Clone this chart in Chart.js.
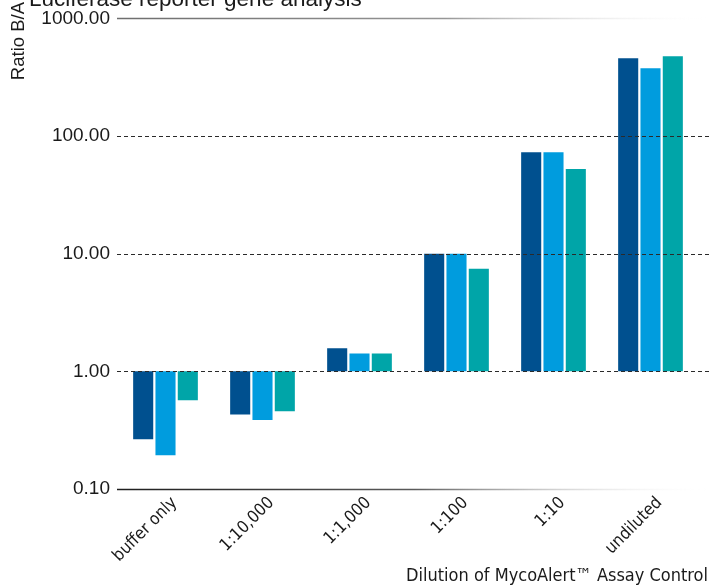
<!DOCTYPE html>
<html>
<head>
<meta charset="utf-8">
<script src="https://cdn.jsdelivr.net/npm/chart.js@4.4.1/dist/chart.umd.min.js"></script>
<style>
  html, body { margin: 0; padding: 0; background: #ffffff; }
  #wrap { width: 712px; height: 585px; position: relative; }
</style>
</head>
<body>
<div id="wrap"><canvas id="c" width="712" height="585"></canvas></div>
<script>
const chartTitle = "Luciferase reporter gene analysis";
const yTitle = "Ratio B/A";
const xTitle = "Dilution of MycoAlert™ Assay Control";
const categories = ["buffer only", "1:10,000", "1:1,000", "1:100", "1:10", "undiluted"];
const seriesNames = ["Replicate 1", "Replicate 2", "Replicate 3"];
const series1 = [0.265, 0.43, 1.57, 10.0, 73, 458];
const series2 = [0.194, 0.385, 1.42, 10.0, 73, 377];
const series3 = [0.568, 0.458, 1.42, 7.46, 52.5, 476];
const baseline = 1;
const yTickValues = [0.1, 1, 10, 100, 1000];
const dashedGridValues = [1, 10, 100];
const colors = ["#00508F", "#009CDE", "#00A5A8"];

const allSeries = [series1, series2, series3];

const overlayPlugin = {
  id: 'overlay',
  afterDatasetsDraw(chart) {
    const ctx = chart.ctx;
    const ys = chart.scales.y;
    const left = chart.chartArea.left;
    const right = chart.width;
    ctx.save();
    ctx.strokeStyle = '#2a2a2a';
    ctx.lineWidth = 1;
    ctx.setLineDash([4, 3]);
    dashedGridValues.forEach(v => {
      const y = Math.round(ys.getPixelForValue(v)) + 0.5;
      ctx.beginPath();
      ctx.moveTo(left, y);
      ctx.lineTo(right, y);
      ctx.stroke();
    });
    ctx.setLineDash([]);
    const yTop = Math.round(ys.getPixelForValue(yTickValues[yTickValues.length - 1])) + 0.5;
    let g = ctx.createLinearGradient(left, 0, right, 0);
    g.addColorStop(0, 'rgba(110,110,110,1)');
    g.addColorStop(0.55, 'rgba(150,150,150,1)');
    g.addColorStop(1, 'rgba(255,255,255,0)');
    ctx.strokeStyle = g;
    ctx.lineWidth = 1.3;
    ctx.beginPath(); ctx.moveTo(left, yTop); ctx.lineTo(right, yTop); ctx.stroke();
    const yBot = Math.round(ys.getPixelForValue(yTickValues[0])) + 0.5;
    g = ctx.createLinearGradient(left, 0, right, 0);
    g.addColorStop(0, 'rgba(30,30,30,1)');
    g.addColorStop(0.5, 'rgba(90,90,90,1)');
    g.addColorStop(1, 'rgba(255,255,255,0)');
    ctx.strokeStyle = g;
    ctx.beginPath(); ctx.moveTo(left, yBot); ctx.lineTo(right, yBot); ctx.stroke();
    ctx.restore();
  },
  afterDraw(chart) {
    const ctx = chart.ctx;
    ctx.save();
    ctx.fillStyle = '#1a1a1a';
    ctx.font = '22.5px "Liberation Sans", Arial, sans-serif';
    ctx.textAlign = 'left';
    ctx.textBaseline = 'alphabetic';
    ctx.fillText(chartTitle, 29, 6);
    ctx.save();
    ctx.translate(24, 2);
    ctx.rotate(-Math.PI / 2);
    ctx.font = '18.5px "Liberation Sans", Arial, sans-serif';
    ctx.textAlign = 'right';
    ctx.textBaseline = 'alphabetic';
    ctx.fillText(yTitle, 0, 0);
    ctx.restore();
    ctx.font = '18px "Liberation Sans Narrow", "DejaVu Sans Condensed", sans-serif';
    ctx.textAlign = 'right';
    ctx.textBaseline = 'alphabetic';
    ctx.fillText(xTitle, 708, 581);
    ctx.restore();
  }
};

new Chart(document.getElementById('c'), {
  type: 'bar',
  data: {
    labels: categories,
    datasets: allSeries.map((s, i) => ({
      label: seriesNames[i],
      data: s.map(v => [baseline, v]),
      backgroundColor: colors[i],
      borderWidth: 0,
      categoryPercentage: 0.69,
      barPercentage: 0.9
    }))
  },
  options: {
    responsive: false,
    animation: false,
    layout: { padding: { top: 17, right: 13, left: 0, bottom: 0 } },
    plugins: { legend: { display: false }, tooltip: { enabled: false }, title: { display: false } },
    scales: {
      x: {
        grid: { display: false, drawTicks: false },
        border: { display: false },
        ticks: {
          color: '#1a1a1a',
          font: { family: '"Liberation Sans Narrow", "DejaVu Sans Condensed", sans-serif', size: 17 },
          minRotation: 45,
          maxRotation: 45,
          labelOffset: 9,
          padding: 4
        },
        afterFit(scale) { scale.height = 96; }
      },
      y: {
        type: 'logarithmic',
        min: 0.1,
        max: 1000,
        grid: { display: false, drawTicks: false },
        border: { display: false },
        afterBuildTicks(scale) { scale.ticks = yTickValues.map(v => ({ value: v })); },
        ticks: {
          color: '#1a1a1a',
          font: { family: '"Liberation Sans", Arial, sans-serif', size: 19 },
          padding: 7,
          callback: (v) => Number(v).toFixed(2)
        },
        afterFit(scale) { scale.width = 117; }
      }
    }
  },
  plugins: [overlayPlugin]
});
</script>
</body>
</html>
